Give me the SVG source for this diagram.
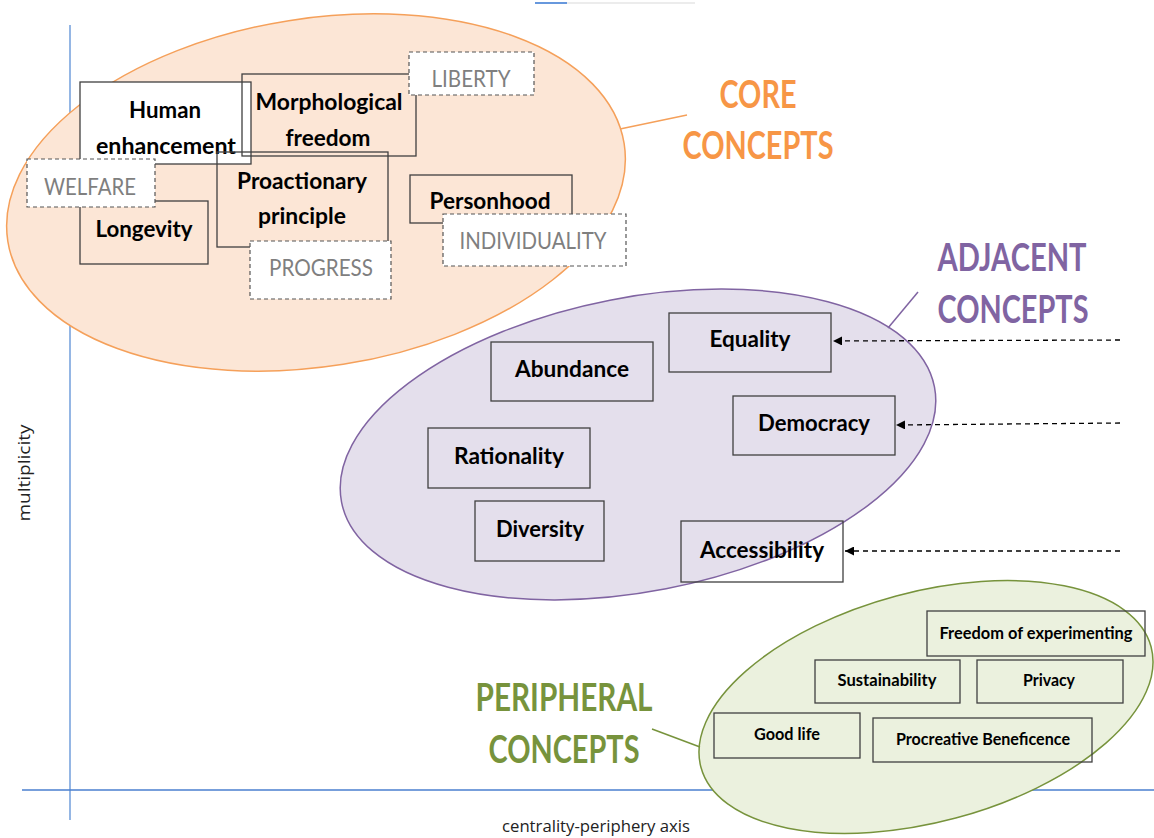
<svg xmlns="http://www.w3.org/2000/svg" width="1154" height="838" viewBox="0 0 1154 838">
<defs>
<style>
.lbl{font-family:Lato,"Open Sans","Liberation Sans",sans-serif;font-weight:bold;font-size:23px;fill:#000;text-anchor:middle}
.sm{font-size:17px}
.gr{font-family:Lato,"Open Sans","Liberation Sans",sans-serif;font-size:23px;fill:#7f7f7f;text-anchor:middle}
.ttl{font-family:Lato,"Open Sans","Liberation Sans",sans-serif;font-weight:bold;font-size:38px;text-anchor:middle}
.ax{font-family:"Open Sans","Liberation Sans",sans-serif;font-size:16px;fill:#222;text-anchor:middle}
.box{fill:none;stroke:#404040;stroke-width:1.3}
.wbox{fill:#fff;stroke:#404040;stroke-width:1.3}
.dbox{fill:#fff;stroke:#555;stroke-width:1.2;stroke-dasharray:4 3}
.conn{stroke:#000;stroke-width:1.3;stroke-dasharray:5 4;fill:none}
</style>
<marker id="ah" viewBox="0 0 10 10" refX="10" refY="5" markerWidth="9" markerHeight="9" markerUnits="userSpaceOnUse" orient="auto">
<path d="M0,0 L10,5 L0,10 z" fill="#000"/>
</marker>
</defs>
<rect width="1154" height="838" fill="#fff"/>
<line x1="535" y1="3" x2="695" y2="3" stroke="#e6e6e6" stroke-width="1.5"/>
<line x1="535" y1="3" x2="567" y2="3" stroke="#3b7dd8" stroke-width="1.5"/>
<g id="axes">
<line x1="70" y1="25" x2="70" y2="820" stroke="#5b8fd6" stroke-width="1.3"/>
<line x1="22" y1="790" x2="1154" y2="790" stroke="#4a7fcf" stroke-width="1.3"/>
<text class="ax" transform="translate(30,473) rotate(-90)" textLength="97" lengthAdjust="spacingAndGlyphs">multiplicity</text>
<text class="ax" x="596" y="832" textLength="188" lengthAdjust="spacingAndGlyphs">centrality-periphery axis</text>
</g>
<g id="core">
<ellipse cx="316" cy="192.5" rx="312" ry="174" transform="rotate(-9 316 192.5)" fill="#fce6d6" stroke="#f5a05a" stroke-width="1.5"/>
<line x1="620" y1="129" x2="687" y2="115" stroke="#f5a05a" stroke-width="1.5"/>
<text class="ttl" fill="#f79646" x="758" y="108" textLength="77" lengthAdjust="spacingAndGlyphs">CORE</text>
<text class="ttl" fill="#f79646" x="758" y="159" textLength="151" lengthAdjust="spacingAndGlyphs">CONCEPTS</text>
</g>
<g id="n-human"><rect class="wbox" x="80" y="82" width="171" height="82"/>
<text class="lbl" x="165" y="118" textLength="72" lengthAdjust="spacingAndGlyphs">Human</text>
<text class="lbl" x="166" y="154" textLength="140" lengthAdjust="spacingAndGlyphs">enhancement</text></g>
<g id="n-morph"><rect class="box" x="242" y="74" width="174" height="82"/>
<text class="lbl" x="329" y="110" textLength="147" lengthAdjust="spacingAndGlyphs">Morphological</text>
<text class="lbl" x="328" y="146" textLength="85" lengthAdjust="spacingAndGlyphs">freedom</text></g>
<g id="n-proact"><rect class="box" x="217" y="152" width="171" height="95"/>
<text class="lbl" x="302" y="189" textLength="130" lengthAdjust="spacingAndGlyphs">Proactionary</text>
<text class="lbl" x="302" y="224" textLength="88" lengthAdjust="spacingAndGlyphs">principle</text></g>
<g id="n-longevity"><rect class="box" x="80" y="201" width="128" height="63"/>
<text class="lbl" x="144" y="237" textLength="97" lengthAdjust="spacingAndGlyphs">Longevity</text></g>
<g id="n-welfare"><rect class="dbox" x="27" y="159" width="128" height="48"/>
<text class="gr" x="90" y="195" textLength="92" lengthAdjust="spacingAndGlyphs">WELFARE</text></g>
<g id="n-progress"><rect class="dbox" x="250" y="241" width="141" height="58"/>
<text class="gr" x="321" y="276" textLength="104" lengthAdjust="spacingAndGlyphs">PROGRESS</text></g>
<g id="n-liberty"><rect class="dbox" x="409" y="52" width="125" height="43"/>
<text class="gr" x="471" y="87" textLength="79" lengthAdjust="spacingAndGlyphs">LIBERTY</text></g>
<g id="n-personhood"><rect class="box" x="410" y="175" width="162" height="48"/>
<text class="lbl" x="490" y="209" textLength="121" lengthAdjust="spacingAndGlyphs">Personhood</text></g>
<g id="n-individuality"><rect class="dbox" x="443" y="214" width="183" height="52"/>
<text class="gr" x="533" y="249" textLength="147" lengthAdjust="spacingAndGlyphs">INDIVIDUALITY</text></g>
<g id="adjacent">
<ellipse cx="638" cy="444.5" rx="302" ry="147" transform="rotate(-11 638 444.5)" fill="#e4dfec" stroke="#8064a2" stroke-width="1.5"/>
<line x1="888" y1="328" x2="918" y2="292" stroke="#8064a2" stroke-width="1.5"/>
<text class="ttl" fill="#8064a2" x="1012" y="271" textLength="149" lengthAdjust="spacingAndGlyphs">ADJACENT</text>
<text class="ttl" fill="#8064a2" x="1013" y="323" textLength="151" lengthAdjust="spacingAndGlyphs">CONCEPTS</text>
</g>
<g id="n-equality"><rect class="box" x="669" y="313" width="162" height="59"/>
<text class="lbl" x="750" y="347" textLength="81" lengthAdjust="spacingAndGlyphs">Equality</text></g>
<g id="n-abundance"><rect class="box" x="491" y="342" width="162" height="59"/>
<text class="lbl" x="572" y="377" textLength="114" lengthAdjust="spacingAndGlyphs">Abundance</text></g>
<g id="n-democracy"><rect class="box" x="733" y="396" width="162" height="59"/>
<text class="lbl" x="814" y="431" textLength="112" lengthAdjust="spacingAndGlyphs">Democracy</text></g>
<g id="n-rationality"><rect class="box" x="428" y="428" width="162" height="60"/>
<text class="lbl" x="509" y="464" textLength="110" lengthAdjust="spacingAndGlyphs">Rationality</text></g>
<g id="n-diversity"><rect class="box" x="475" y="501" width="129" height="60"/>
<text class="lbl" x="540" y="537" textLength="88" lengthAdjust="spacingAndGlyphs">Diversity</text></g>
<g id="n-accessibility"><rect class="box" x="681" y="521" width="162" height="61"/>
<text class="lbl" x="762" y="558" textLength="124" lengthAdjust="spacingAndGlyphs">Accessibility</text></g>
<g id="peripheral">
<ellipse cx="926" cy="707" rx="233" ry="115" transform="rotate(-15 926 707)" fill="#ebf1de" stroke="#77933c" stroke-width="1.5"/>
<line x1="652" y1="729" x2="700" y2="747" stroke="#77933c" stroke-width="1.5"/>
<text class="ttl" fill="#77933c" x="564" y="711" textLength="177" lengthAdjust="spacingAndGlyphs">PERIPHERAL</text>
<text class="ttl" fill="#77933c" x="564" y="763" textLength="151" lengthAdjust="spacingAndGlyphs">CONCEPTS</text>
</g>
<g id="n-freedom-exp"><rect class="box" x="927" y="611" width="218" height="45"/>
<text class="lbl sm" x="1036" y="639" textLength="193" lengthAdjust="spacingAndGlyphs">Freedom of experimenting</text></g>
<g id="n-sustainability"><rect class="box" x="815" y="660" width="145" height="43"/>
<text class="lbl sm" x="887" y="686" textLength="99" lengthAdjust="spacingAndGlyphs">Sustainability</text></g>
<g id="n-privacy"><rect class="box" x="977" y="660" width="146" height="43"/>
<text class="lbl sm" x="1049" y="686" textLength="52" lengthAdjust="spacingAndGlyphs">Privacy</text></g>
<g id="n-goodlife"><rect class="box" x="714" y="713" width="146" height="45"/>
<text class="lbl sm" x="787" y="740" textLength="66" lengthAdjust="spacingAndGlyphs">Good life</text></g>
<g id="n-procreative"><rect class="box" x="873" y="718" width="219" height="44"/>
<text class="lbl sm" x="983" y="745" textLength="174" lengthAdjust="spacingAndGlyphs">Procreative Beneficence</text></g>
<g id="connectors">
<line class="conn" x1="1120" y1="340" x2="833" y2="341" marker-end="url(#ah)"/>
<line class="conn" x1="1120" y1="423" x2="896" y2="425" marker-end="url(#ah)"/>
<line class="conn" x1="1120" y1="551" x2="845" y2="551" marker-end="url(#ah)"/>
</g>
</svg>
